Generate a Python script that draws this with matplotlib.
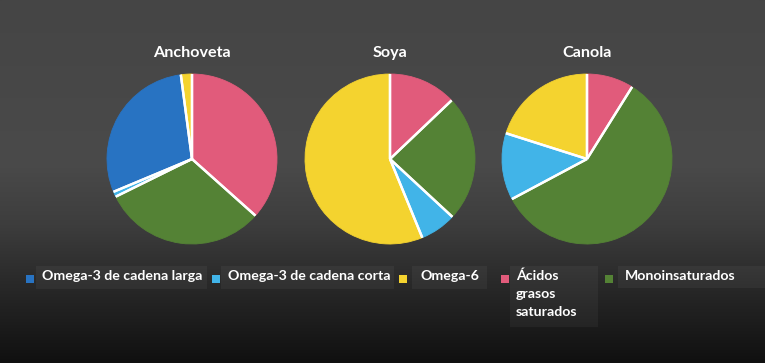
import numpy as np
import matplotlib
matplotlib.use("Agg")
import matplotlib.pyplot as plt
from matplotlib.patches import Rectangle
from matplotlib.colors import LinearSegmentedColormap

plt.rcParams['font.family'] = ['Lato', 'DejaVu Sans']

# ---- data (clockwise from 12 o'clock) ----
categories = ["Ácidos grasos saturados", "Monoinsaturados", "Omega-3 de cadena corta",
              "Omega-3 de cadena larga", "Omega-6"]
anchoveta = [36.6, 31.1, 1.0, 29.2, 2.1]
soya = [12.9, 24.0, 6.9, 0.0, 56.2]
canola = [8.9, 58.3, 12.7, 0.0, 20.1]
titles = ["Anchoveta", "Soya", "Canola"]

legend_order = ["Omega-3 de cadena larga", "Omega-3 de cadena corta", "Omega-6",
                "Ácidos grasos saturados", "Monoinsaturados"]
legend_labels = ["Omega-3 de cadena larga", "Omega-3 de cadena corta", "Omega-6",
                 "Ácidos\ngrasos\nsaturados", "Monoinsaturados"]

colors = {
    "Ácidos grasos saturados": "#e15b7b",
    "Monoinsaturados": "#548235",
    "Omega-3 de cadena corta": "#41b4e8",
    "Omega-3 de cadena larga": "#2873c2",
    "Omega-6": "#f4d32f",
}

W, H = 765, 363
fig = plt.figure(figsize=(W / 100, H / 100), dpi=100)
ax = fig.add_axes([0, 0, 1, 1])

# background gradient (top -> bottom)
stops = [(0.0, "#454545"), (0.45, "#4a4a4a"), (0.62, "#3d3d3d"), (0.75, "#2d2d2d"), (1.0, "#101010")]
cmap = LinearSegmentedColormap.from_list("bg", stops)
grad = np.linspace(0, 1, 256).reshape(-1, 1)
ax.imshow(grad, cmap=cmap, aspect='auto', extent=[0, W, 0, H], origin='upper', zorder=0)

centers_x = [192, 390, 587]
cy = H - 159
radius = 85
for cx, vals, t in zip(centers_x, [anchoveta, soya, canola], titles):
    v = np.array(vals, dtype=float)
    keep = v > 0
    cols = [colors[c] for c, k in zip(categories, keep) if k]
    wedges, _ = ax.pie(v[keep], colors=cols, startangle=90, counterclock=False,
                       center=(cx, cy), radius=radius, frame=True,
                       wedgeprops=dict(linewidth=0.6))
    for w, c in zip(wedges, cols):
        w.set_edgecolor(c)
    for w in wedges:
        for th in (w.theta1, w.theta2):
            a = np.deg2rad(th)
            ax.plot([cx, cx + radius * np.cos(a)], [cy, cy + radius * np.sin(a)],
                    color="white", lw=1.7, solid_capstyle="butt", zorder=3)
    ax.text(cx, H - 53, t, color="white", fontsize=11.6, fontweight="bold",
            ha="center", va="center", zorder=5)

# legend
sq_x = [26, 212, 399, 501, 605]
txt_x = [42, 228, 421, 516, 625]
box = [(36, 207), (221, 394), (412, 487), (510, 598), (618, 765)]
box_bottom = [289, 289, 289, 327, 288]
for i, (cat, lab) in enumerate(zip(legend_order, legend_labels)):
    bx0, bx1 = box[i]
    ax.add_patch(Rectangle((bx0, H - box_bottom[i]), bx1 - bx0, box_bottom[i] - 266,
                           facecolor="white", alpha=0.045, edgecolor="none", zorder=2))
    ax.add_patch(Rectangle((sq_x[i], H - 283), 8, 8, facecolor=colors[cat],
                           edgecolor="none", zorder=3))
    ax.text(txt_x[i], H - 270, lab, color="white", fontsize=10.2, fontweight="bold",
            ha="left", va="top", linespacing=1.55, zorder=4)

ax.set_xlim(0, W)
ax.set_ylim(0, H)
ax.set_aspect('auto')
ax.axis('off')
fig.savefig("out.png", dpi=100)
